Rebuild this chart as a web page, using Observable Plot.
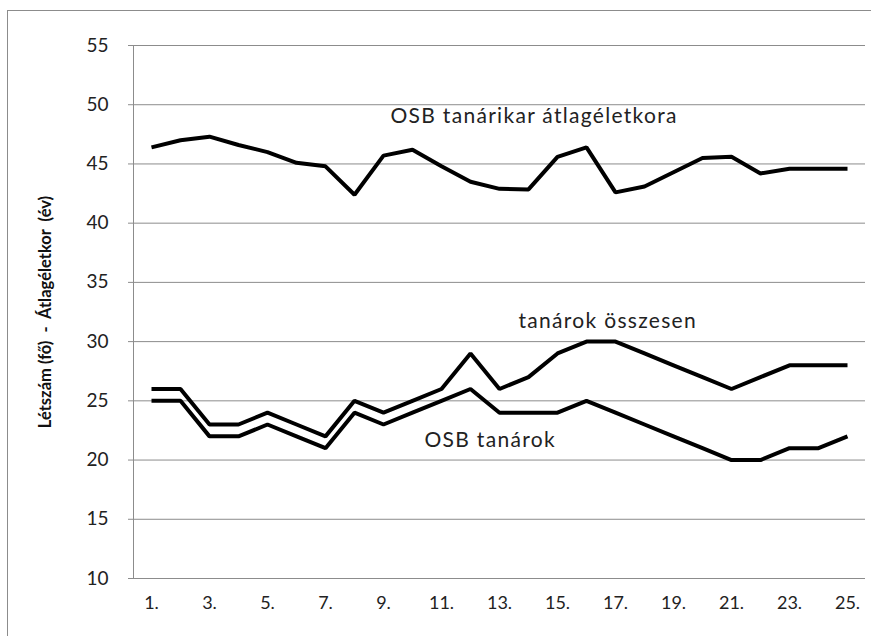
<!DOCTYPE html>
<html>
<head>
<meta charset="utf-8">
<script src="https://cdn.jsdelivr.net/npm/d3@7"></script>
<script src="https://cdn.jsdelivr.net/npm/@observablehq/plot@0.6"></script>
<style>
  html, body { margin: 0; padding: 0; background: #fff; overflow: hidden; }
  #wrap { position: relative; width: 871px; height: 636px; }
  #border { position: absolute; left: 7px; top: 10px; width: 900px; height: 700px; border: 1.5px solid #8c8c8c; pointer-events: none; }
  svg { font-family: Lato, "Open Sans", sans-serif; }
  .serieslabel text { letter-spacing: 1.3px; }
</style>
</head>
<body>
<div id="wrap"><div id="border"></div></div>
<script>
const categories = ["1.","2.","3.","4.","5.","6.","7.","8.","9.","10.","11.","12.","13.","14.","15.","16.","17.","18.","19.","20.","21.","22.","23.","24.","25."];
const atlagEletkor = [46.4, 47.0, 47.3, 46.6, 46.0, 45.1, 44.8, 42.4, 45.7, 46.2, 44.8, 43.5, 42.9, 42.85, 45.6, 46.4, 42.6, 43.1, 44.3, 45.5, 45.6, 44.2, 44.6, 44.6, 44.6];
const tanarokOsszesen = [26, 26, 23, 23, 24, 23, 22, 25, 24, 25, 26, 29, 26, 27, 29, 30, 30, 29, 28, 27, 26, 27, 28, 28, 28];
const osbTanarok = [25, 25, 22, 22, 23, 22, 21, 24, 23, 24, 25, 26, 24, 24, 24, 25, 24, 23, 22, 21, 20, 20, 21, 21, 22];
const xTickLabels = ["1.","3.","5.","7.","9.","11.","13.","15.","17.","19.","21.","23.","25."];
const yTicks = [10, 15, 20, 25, 30, 35, 40, 45, 50, 55];
const seriesNames = ["OSB tanárikar átlagéletkora", "tanárok összesen", "OSB tanárok"];
const yTitle = "Létszám (fő)  -  Átlagéletkor  (év)";

const rows = (vals, s) => categories.map((c, i) => ({cat: c, value: vals[i], series: s}));
const data = [
  ...rows(atlagEletkor, seriesNames[0]),
  ...rows(tanarokOsszesen, seriesNames[1]),
  ...rows(osbTanarok, seriesNames[2])
];

const labelStyle = {x: "cat", y: "value", text: "text", textAnchor: "start", fontSize: 21, fill: "#222", className: "serieslabel"};

const chart = Plot.plot({
  width: 871,
  height: 636,
  marginLeft: 133,
  marginRight: 6,
  marginTop: 45,
  marginBottom: 58,
  style: {fontFamily: "Lato, 'Open Sans', sans-serif", background: "transparent"},
  x: {type: "point", domain: categories, padding: 0.5, align: 0.5},
  y: {domain: [10, 55]},
  marks: [
    Plot.gridY(yTicks, {stroke: "#8c8c8c", strokeOpacity: 1, strokeWidth: 1}),
    Plot.axisY(yTicks, {tickSize: 5, tickPadding: 20, stroke: "#8c8c8c", fontSize: 19, fill: "#222", label: null}),
    Plot.axisX(xTickLabels, {tickSize: 0, tickPadding: 18, fontSize: 18, fill: "#222", label: null}),
    Plot.frame({anchor: "left", stroke: "#8c8c8c"}),
    Plot.text([yTitle], {frameAnchor: "left", rotate: -90, dx: -88, fontSize: 16.5, fontWeight: "bold", fill: "#111", text: d => d, textAnchor: "middle"}),
    Plot.line(data, {x: "cat", y: "value", z: "series", stroke: "#000", strokeWidth: 4, strokeLinejoin: "miter", strokeLinecap: "butt"}),
    Plot.text([{cat: "9.", value: 49.0, text: seriesNames[0]}], {...labelStyle, dx: 7}),
    Plot.text([{cat: "13.", value: 31.7, text: seriesNames[1]}], {...labelStyle, dx: 19}),
    Plot.text([{cat: "10.", value: 21.65, text: seriesNames[2]}], {...labelStyle, dx: 12})
  ]
});
document.getElementById("wrap").prepend(chart);
</script>
</body>
</html>
